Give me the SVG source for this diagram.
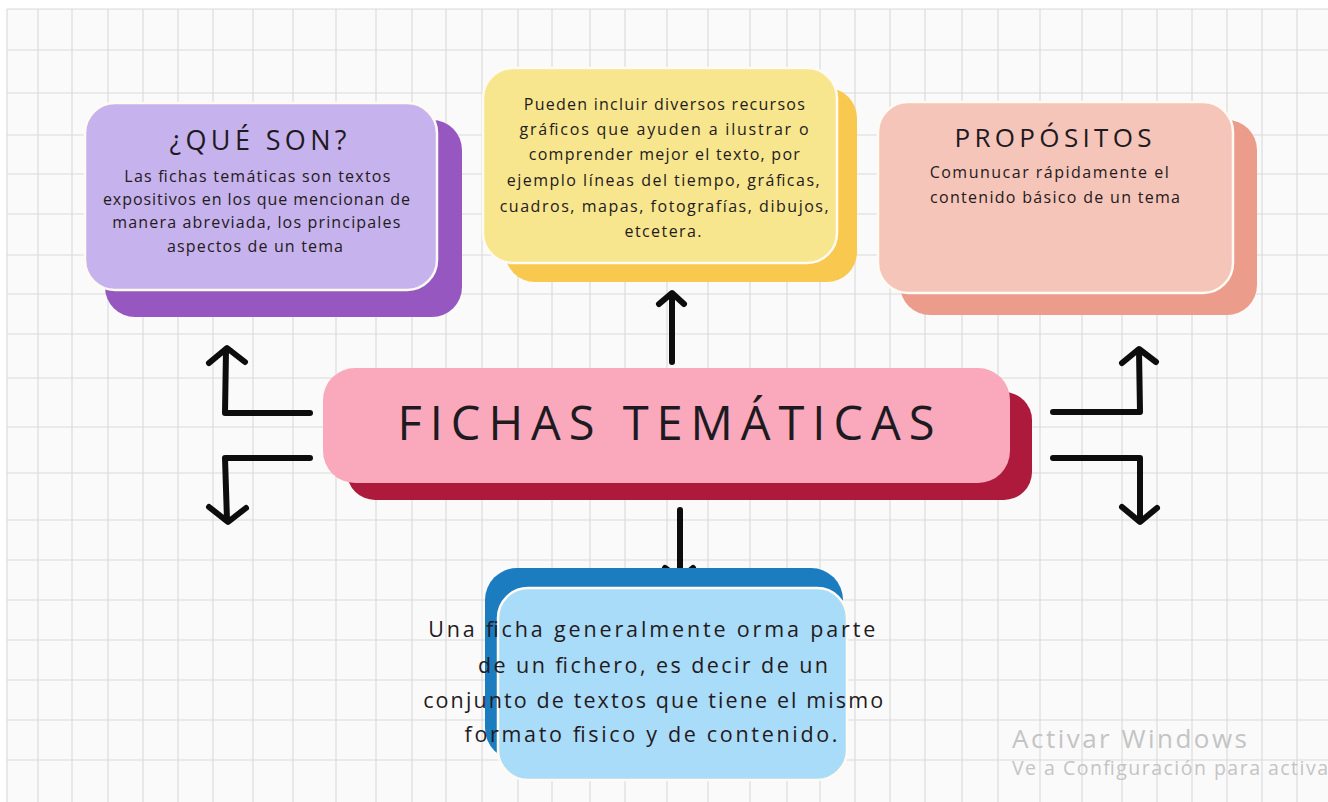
<svg xmlns="http://www.w3.org/2000/svg" width="1328" height="802" viewBox="0 0 1328 802">
<style>
.grid line{stroke:#d9d9d9;stroke-width:1.1}
.front{stroke:#fffaf2;stroke-width:2.5}
.title{font-family:"Open Sans","DejaVu Sans",sans-serif;fill:#1e1a22;text-anchor:middle;font-weight:500}
.body{font-family:"Open Sans","DejaVu Sans",sans-serif;fill:#241a20;text-anchor:middle;font-weight:500}
.arrow{fill:none;stroke:#0d0d0d;stroke-width:6;stroke-linecap:round;stroke-linejoin:round}
.wm{font-family:"Open Sans","Noto Sans",sans-serif;fill:#c4c4c4}
</style>
<rect x="0" y="0" width="1328" height="802" fill="#ffffff"/>
<rect x="7" y="9" width="1321" height="793" fill="#fafafa"/>
<g class="grid">
<line x1="7" y1="9" x2="7" y2="802"/><line x1="38" y1="9" x2="38" y2="802"/><line x1="72" y1="9" x2="72" y2="802"/><line x1="108" y1="9" x2="108" y2="802"/><line x1="143" y1="9" x2="143" y2="802"/><line x1="178" y1="9" x2="178" y2="802"/><line x1="213" y1="9" x2="213" y2="802"/><line x1="253" y1="9" x2="253" y2="802"/><line x1="293" y1="9" x2="293" y2="802"/><line x1="336" y1="9" x2="336" y2="802"/><line x1="376" y1="9" x2="376" y2="802"/><line x1="412" y1="9" x2="412" y2="802"/><line x1="446" y1="9" x2="446" y2="802"/><line x1="482" y1="9" x2="482" y2="802"/><line x1="518" y1="9" x2="518" y2="802"/><line x1="552" y1="9" x2="552" y2="802"/><line x1="590" y1="9" x2="590" y2="802"/><line x1="625" y1="9" x2="625" y2="802"/><line x1="667" y1="9" x2="667" y2="802"/><line x1="708" y1="9" x2="708" y2="802"/><line x1="750" y1="9" x2="750" y2="802"/><line x1="787" y1="9" x2="787" y2="802"/><line x1="820" y1="9" x2="820" y2="802"/><line x1="855" y1="9" x2="855" y2="802"/><line x1="890" y1="9" x2="890" y2="802"/><line x1="925" y1="9" x2="925" y2="802"/><line x1="962" y1="9" x2="962" y2="802"/><line x1="998" y1="9" x2="998" y2="802"/><line x1="1040" y1="9" x2="1040" y2="802"/><line x1="1082" y1="9" x2="1082" y2="802"/><line x1="1122" y1="9" x2="1122" y2="802"/><line x1="1157" y1="9" x2="1157" y2="802"/><line x1="1192" y1="9" x2="1192" y2="802"/><line x1="1227" y1="9" x2="1227" y2="802"/><line x1="1262" y1="9" x2="1262" y2="802"/><line x1="1297" y1="9" x2="1297" y2="802"/>
<line x1="7" y1="9" x2="1328" y2="9"/><line x1="7" y1="50" x2="1328" y2="50"/><line x1="7" y1="93" x2="1328" y2="93"/><line x1="7" y1="135" x2="1328" y2="135"/><line x1="7" y1="174" x2="1328" y2="174"/><line x1="7" y1="214" x2="1328" y2="214"/><line x1="7" y1="255" x2="1328" y2="255"/><line x1="7" y1="294" x2="1328" y2="294"/><line x1="7" y1="334" x2="1328" y2="334"/><line x1="7" y1="378" x2="1328" y2="378"/><line x1="7" y1="427" x2="1328" y2="427"/><line x1="7" y1="473" x2="1328" y2="473"/><line x1="7" y1="520" x2="1328" y2="520"/><line x1="7" y1="560" x2="1328" y2="560"/><line x1="7" y1="600" x2="1328" y2="600"/><line x1="7" y1="640" x2="1328" y2="640"/><line x1="7" y1="680" x2="1328" y2="680"/><line x1="7" y1="720" x2="1328" y2="720"/><line x1="7" y1="760" x2="1328" y2="760"/>
</g>

<g id="connectors">
<path class="arrow" d="M310,413 L225,413 L226,350 M209,363 L227,348 L245,362"/>
<path class="arrow" d="M310,458 L225,458 L227,520 M209,507 L228,522 L246,508"/>
<path class="arrow" d="M1053,412 L1140,412 L1139,350 M1122,363 L1139,349 L1156,362"/>
<path class="arrow" d="M1053,458 L1140,458 L1140,520 M1122,507 L1140,522 L1157,508"/>
<path class="arrow" d="M672,362 L672,295 M659,304 L672,293 L684,304"/>
<path class="arrow" d="M680,510 L680,577 M665,568 L680,579 L693,568"/>
</g>

<g id="que-son">
<rect x="105" y="120" width="357" height="197" rx="30" fill="#9658c0"/>
<rect class="front" x="85" y="103" width="352" height="187" rx="30" fill="#c6b2ec"/>
<text class="title" x="258" y="150" font-size="27" textLength="177" lengthAdjust="spacing">¿QUÉ SON?</text>
<text class="body" font-size="16">
<tspan x="260" y="182" textLength="266" lengthAdjust="spacing">Las fichas temáticas son textos</tspan>
<tspan x="259" y="205" textLength="307" lengthAdjust="spacing">expositivos en los que mencionan de</tspan>
<tspan x="259" y="228" textLength="288" lengthAdjust="spacing">manera abreviada, los principales</tspan>
<tspan x="255" y="252" textLength="176" lengthAdjust="spacing">aspectos de un tema</tspan>
</text>
</g>

<g id="recursos">
<rect x="505" y="88" width="352" height="194" rx="30" fill="#f9c94f"/>
<rect class="front" x="483" y="68" width="354" height="195" rx="30" fill="#f7e68d"/>
<text class="body" font-size="16">
<tspan x="667" y="110" textLength="281" lengthAdjust="spacing">Pueden incluir diversos recursos</tspan>
<tspan x="667" y="135" textLength="289" lengthAdjust="spacing">gráficos que ayuden a ilustrar o</tspan>
<tspan x="667" y="160" textLength="271" lengthAdjust="spacing">comprender mejor el texto, por</tspan>
<tspan x="666" y="186" textLength="313" lengthAdjust="spacing">ejemplo líneas del tiempo, gráficas,</tspan>
<tspan x="667" y="212" textLength="329" lengthAdjust="spacing">cuadros, mapas, fotografías, dibujos,</tspan>
<tspan x="663" y="237" textLength="77" lengthAdjust="spacing">etcetera.</tspan>
</text>
</g>

<g id="propositos">
<rect x="900" y="120" width="357" height="195" rx="30" fill="#ec9c8a"/>
<rect class="front" x="878" y="102" width="355" height="191" rx="30" fill="#f6c5b9"/>
<text class="title" x="1053" y="147" font-size="26" textLength="197" lengthAdjust="spacing">PROPÓSITOS</text>
<text class="body" font-size="16">
<tspan x="1052" y="178" textLength="239" lengthAdjust="spacing">Comunucar rápidamente el</tspan>
<tspan x="1055" y="203" textLength="250" lengthAdjust="spacing">contenido básico de un tema</tspan>
</text>
</g>

<g id="fichas-tematicas">
<rect x="347" y="392" width="685" height="108" rx="28" fill="#ad1a3c"/>
<rect x="323" y="368" width="687" height="115" rx="32" fill="#f9a9bb"/>
<text class="title" x="666" y="440" font-size="47" textLength="537" lengthAdjust="spacing">FICHAS TEMÁTICAS</text>
</g>

<g id="fichero">
<rect x="485" y="568" width="358" height="192" rx="32" fill="#1b7cc0"/>
<rect class="front" x="498" y="588" width="349" height="192" rx="30" fill="#a9dcf8"/>
<text class="body" font-size="21.5">
<tspan x="656" y="637" textLength="447" lengthAdjust="spacing">Una ficha generalmente orma parte</tspan>
<tspan x="657" y="673" textLength="350" lengthAdjust="spacing">de un fichero, es decir de un</tspan>
<tspan x="657" y="708" textLength="460" lengthAdjust="spacing">conjunto de textos que tiene el mismo</tspan>
<tspan x="651" y="742" textLength="373" lengthAdjust="spacing">formato fisico y de contenido.</tspan>
</text>
</g>

<g id="watermark">
<text class="wm" x="1012" y="748" font-size="26" textLength="235" lengthAdjust="spacing">Activar Windows</text>
<text class="wm" x="1012" y="775" font-size="19.5" textLength="316" lengthAdjust="spacing">Ve a Configuración para activa</text>
</g>
</svg>
